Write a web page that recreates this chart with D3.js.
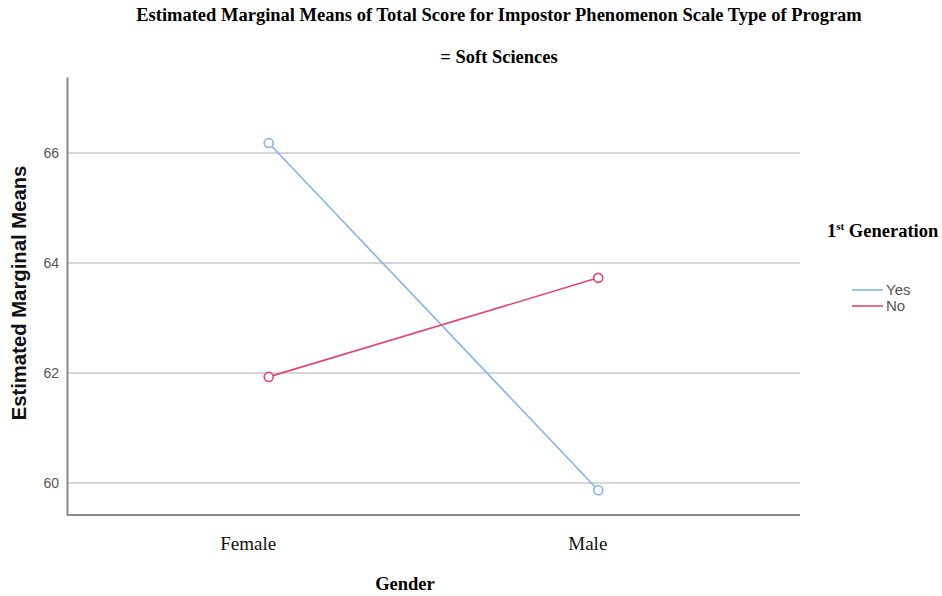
<!DOCTYPE html>
<html>
<head>
<meta charset="utf-8">
<script src="https://cdn.jsdelivr.net/npm/d3@7"></script>
<style>
  body { margin: 0; background: #fff; }
</style>
</head>
<body>
<div id="chart"></div>
<script>
const genders = ["Female", "Male"];
const groups = ["Yes", "No"];
const yesMeans = [66.18, 59.87];
const noMeans = [61.93, 63.73];
const yTicks = [60, 62, 64, 66];
const colors = ["#86b3ec", "#e2476f"];

const svg = d3.select("#chart").append("svg")
    .attr("width", 942)
    .attr("height", 596);

const x = d3.scalePoint()
    .domain(genders)
    .range([67, 800])
    .padding(0.612);

const y = d3.scaleLinear()
    .domain([59.42, 67.38])
    .range([515, 77]);

// gridlines
svg.append("g")
    .selectAll("line")
    .data(yTicks)
    .join("line")
    .attr("x1", 67).attr("x2", 800)
    .attr("y1", d => y(d)).attr("y2", d => y(d))
    .attr("stroke", "#d6d6d6")
    .attr("stroke-width", 2);

// y axis
const yAxis = svg.append("g")
    .attr("transform", "translate(67,0)")
    .call(d3.axisLeft(y).tickValues(yTicks).tickSize(0).tickPadding(8).tickFormat(d3.format("d")));
yAxis.select(".domain").attr("stroke", "#8a8a8a").attr("stroke-width", 2);
yAxis.selectAll("text")
    .attr("font-family", "Arial, 'Liberation Sans', sans-serif")
    .attr("font-size", 14)
    .attr("fill", "#555");

// x axis (labels sit a little left of the points in the original)
const xAxis = svg.append("g")
    .attr("transform", "translate(0,515)")
    .call(d3.axisBottom(x).tickSize(0).tickPadding(22));
xAxis.select(".domain").attr("stroke", "#8a8a8a").attr("stroke-width", 2)
    .attr("d", "M67,0H800");
xAxis.selectAll("text")
    .attr("font-family", "'Times New Roman', 'Liberation Serif', serif")
    .attr("font-size", 19)
    .attr("fill", "#111")
    .attr("dx", d => d === "Female" ? -21 : -11);

const series = [yesMeans, noMeans];
const line = d3.line()
    .x((d, i) => x(genders[i]))
    .y(d => y(d));

series.forEach((vals, s) => {
    svg.append("path")
        .datum(vals)
        .attr("fill", "none")
        .attr("stroke", colors[s])
        .attr("stroke-width", 1.6)
        .attr("d", line);
    svg.append("g")
        .selectAll("circle")
        .data(vals)
        .join("circle")
        .attr("cx", (d, i) => x(genders[i]))
        .attr("cy", d => y(d))
        .attr("r", 4.5)
        .attr("fill", "#fff")
        .attr("stroke", colors[s])
        .attr("stroke-width", 1.6);
});

// titles
const serif = "'Times New Roman', 'Liberation Serif', serif";
svg.append("text")
    .attr("x", 499).attr("y", 21)
    .attr("text-anchor", "middle")
    .attr("font-family", serif)
    .attr("font-weight", "bold")
    .attr("font-size", 18.5)
    .text("Estimated Marginal Means of Total Score for Impostor Phenomenon Scale Type of Program");
svg.append("text")
    .attr("x", 499).attr("y", 63)
    .attr("text-anchor", "middle")
    .attr("font-family", serif)
    .attr("font-weight", "bold")
    .attr("font-size", 18.5)
    .text("= Soft Sciences");

svg.append("text")
    .attr("x", 405).attr("y", 590)
    .attr("text-anchor", "middle")
    .attr("font-family", serif)
    .attr("font-weight", "bold")
    .attr("font-size", 18.5)
    .text("Gender");

svg.append("text")
    .attr("transform", "translate(26,293) rotate(-90)")
    .attr("text-anchor", "middle")
    .attr("font-family", "Arial, 'Liberation Sans', sans-serif")
    .attr("font-weight", "bold")
    .attr("font-size", 20.3)
    .attr("fill", "#111")
    .text("Estimated Marginal Means");

// legend
const legTitle = svg.append("text")
    .attr("x", 827).attr("y", 237)
    .attr("font-family", serif)
    .attr("font-weight", "bold")
    .attr("font-size", 18.5);
legTitle.append("tspan").text("1");
legTitle.append("tspan").attr("font-size", 11).attr("dy", -7).text("st");
legTitle.append("tspan").attr("dy", 7).text(" Generation");

const legend = svg.append("g")
    .selectAll("g")
    .data(groups)
    .join("g")
    .attr("transform", (d, i) => `translate(852,${290 + i * 16})`);
legend.append("line")
    .attr("x1", 0).attr("x2", 31)
    .attr("stroke", (d, i) => colors[i])
    .attr("stroke-width", 1.6);
legend.append("text")
    .attr("x", 34).attr("y", 5)
    .attr("font-family", "Arial, 'Liberation Sans', sans-serif")
    .attr("font-size", 15)
    .attr("fill", "#555")
    .text(d => d);
</script>
</body>
</html>
